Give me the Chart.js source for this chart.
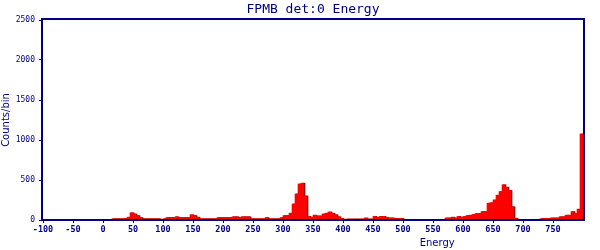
<!DOCTYPE html>
<html>
<head>
<meta charset="utf-8">
<script src="https://cdn.jsdelivr.net/npm/chart.js@4.4.1/dist/chart.umd.min.js"></script>
<style>
  html, body { margin: 0; padding: 0; background: #fff; }
  #wrap { width: 600px; height: 250px; }
</style>
</head>
<body>
<div id="wrap"><canvas id="chart"></canvas></div>
<script>
// histogram binning (energy units)
const binStart = -100;
const binWidth = 5;

// counts per bin, one row = 10 bins = 50 energy units (-100 ... 795)
const counts = [
    0, 0, 0, 0, 0, 0, 0, 0, 0, 0,
    0, 0, 0, 0, 0, 0, 0, 0, 0, 0,
    0, 0, 0, 15, 15, 15, 15, 20, 35, 90,
    75, 55, 30, 15, 15, 15, 15, 15, 15, 0,
    15, 30, 30, 30, 40, 30, 30, 30, 30, 65,
    55, 35, 15, 15, 15, 15, 15, 15, 30, 30,
    30, 30, 30, 40, 40, 30, 40, 40, 40, 15,
    15, 15, 15, 15, 30, 15, 15, 15, 15, 30,
    55, 55, 85, 200, 325, 450, 460, 300, 45, 35,
    60, 50, 50, 75, 85, 100, 85, 65, 40, 20,
    0, 12, 12, 12, 12, 12, 12, 25, 12, 12,
    45, 30, 45, 45, 30, 25, 25, 20, 20, 20,
    8, 8, 8, 8, 8, 8, 8, 8, 8, 8,
    8, 8, 8, 8, 25, 25, 35, 25, 45, 35,
    45, 55, 60, 70, 80, 80, 105, 105, 210, 215,
    250, 310, 355, 440, 410, 370, 165, 20, 8, 8,
    8, 8, 8, 0, 8, 10, 20, 20, 20, 25,
    25, 25, 40, 40, 60, 60, 105, 80, 135, 1075
];

const xTicks = [-100, -50, 0, 50, 100, 150, 200, 250, 300, 350, 400, 450, 500, 550, 600, 650, 700, 750];
const yTicks = [0, 500, 1000, 1500, 2000, 2500];

const chartTitle = 'FPMB det:0 Energy';
const xLabel = 'Energy';
const yLabel = 'Counts/bin';

const NAVY = '#000080';
const RED = '#ff0000';
const SHADOW = '#6a0000';

// bin centres
const centers = counts.map((c, i) => binStart + i * binWidth + binWidth / 2);
const barPoints = counts.map((c, i) => ({ x: centers[i], y: c }));
// dark copy one pixel to the right (a bin is 3px wide) for the 3D edge
const shadowPoints = counts.map((c, i) => ({ x: centers[i] + binWidth / 3, y: c }));

// frame + title + x label
const framePlugin = {
    id: 'frame',
    afterDatasetsDraw(chart) {
        const { ctx, chartArea: a } = chart;
        ctx.save();
        ctx.strokeStyle = NAVY;
        ctx.lineWidth = 2;
        ctx.strokeRect(a.left - 1, a.top - 1, a.right - a.left + 2, a.bottom - a.top + 1);
        ctx.restore();
    },
    afterDraw(chart) {
        const { ctx, chartArea: a } = chart;
        ctx.save();
        ctx.fillStyle = NAVY;
        ctx.textAlign = 'center';
        ctx.textBaseline = 'middle';
        ctx.font = '13px "DejaVu Sans Mono"';
        ctx.fillText(chartTitle, (a.left + a.right) / 2, 10);
        ctx.font = '10px "DejaVu Sans"';
        ctx.fillText(xLabel, a.left + (a.right - a.left) * 0.73, 243);
        ctx.restore();
    }
};

new Chart(document.getElementById('chart'), {
    type: 'bar',
    data: {
        datasets: [
            {
                data: barPoints,
                backgroundColor: RED,
                borderWidth: 0,
                barThickness: 3,
                grouped: false,
                order: 1
            },
            {
                data: shadowPoints,
                backgroundColor: SHADOW,
                borderWidth: 0,
                barThickness: 3,
                grouped: false,
                order: 2
            }
        ]
    },
    options: {
        responsive: true,
        maintainAspectRatio: false,
        animation: false,
        layout: { padding: { top: 20, right: 17, left: 0, bottom: 0 } },
        plugins: {
            legend: { display: false },
            tooltip: { enabled: false }
        },
        scales: {
            x: {
                type: 'linear',
                min: -100,
                max: 800,
                offset: false,
                afterBuildTicks: (scale) => { scale.ticks = xTicks.map(v => ({ value: v })); },
                afterFit: (scale) => { scale.height = 30; },
                grid: { drawOnChartArea: false, offset: false, color: NAVY, tickLength: 3 },
                border: { display: false },
                ticks: {
                    color: NAVY,
                    padding: 2,
                    maxRotation: 0,
                    autoSkip: false,
                    callback: (v) => String(v),
                    font: { family: 'DejaVu Sans Mono', size: 8.5, weight: 'bold' }
                }
            },
            y: {
                min: 0,
                max: 2500,
                afterBuildTicks: (scale) => { scale.ticks = yTicks.map(v => ({ value: v })); },
                afterFit: (scale) => { scale.width = 43; },
                grid: { drawOnChartArea: false, color: NAVY, tickLength: 4 },
                border: { display: false },
                ticks: {
                    color: NAVY,
                    padding: 4,
                    callback: (v) => String(v),
                    font: { family: 'DejaVu Sans Mono', size: 8 }
                },
                title: {
                    display: true,
                    text: yLabel,
                    color: NAVY,
                    padding: 0,
                    font: { family: 'DejaVu Sans', size: 10 }
                }
            }
        }
    },
    plugins: [framePlugin]
});
</script>
</body>
</html>
